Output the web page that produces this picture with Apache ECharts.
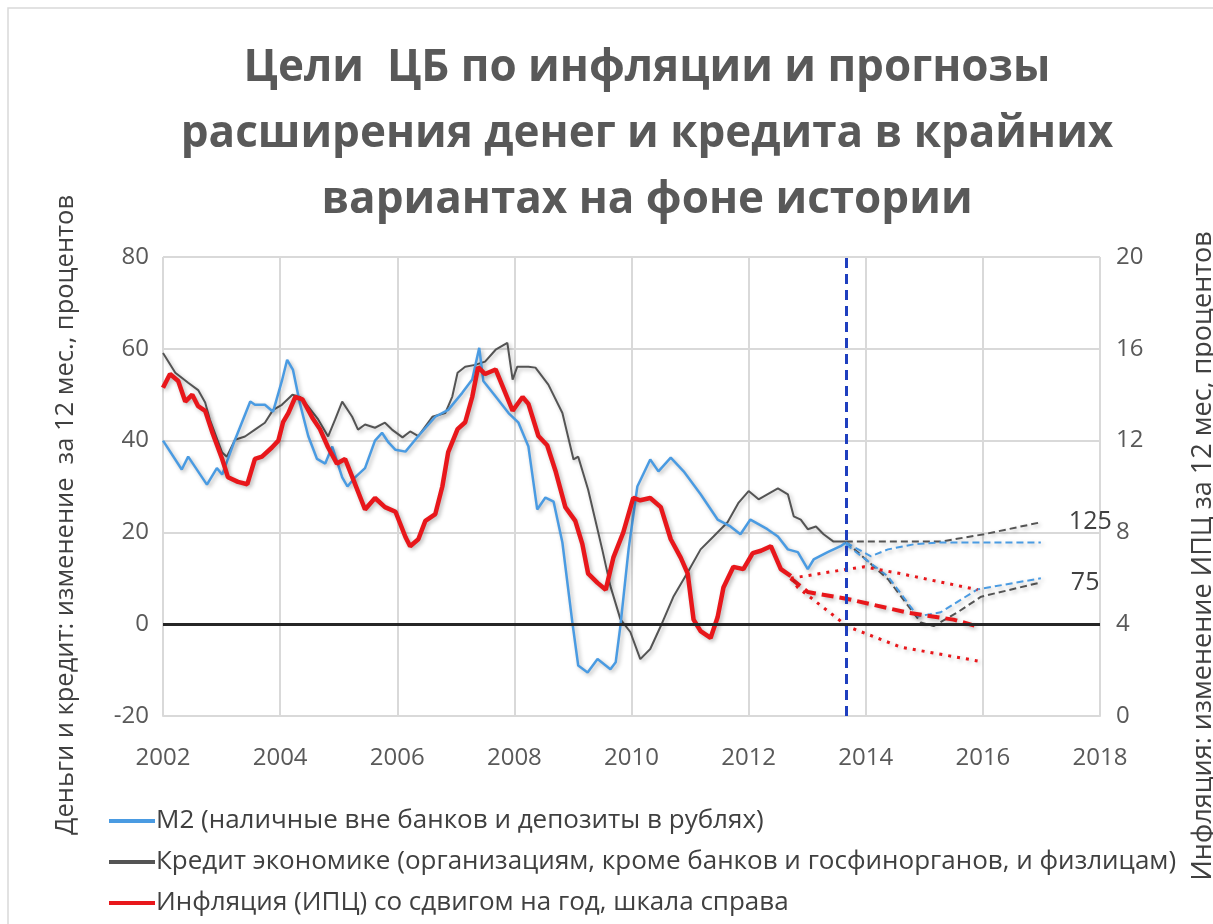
<!DOCTYPE html>
<html>
<head>
<meta charset="utf-8">
<script src="https://cdn.jsdelivr.net/npm/echarts@6/dist/echarts.min.js"></script>
<style>html,body{margin:0;padding:0;background:#fff;}#c{width:1213px;height:924px;}</style>
</head>
<body>
<div id="c"></div>
<script>
// ---- data (decimal years, percent) ----
const xTicks = [2002, 2004, 2006, 2008, 2010, 2012, 2014, 2016, 2018];
const leftTicks = [-20, 0, 20, 40, 60, 80];
const rightTicks = [0, 4, 8, 12, 16, 20];

const m2Years = [2002.00,2002.32,2002.43,2002.75,2002.92,2003.01,2003.23,2003.49,2003.57,2003.74,2003.88,2004.03,2004.12,2004.22,2004.34,2004.48,2004.63,2004.77,2004.89,2005.06,2005.15,2005.28,2005.45,2005.62,2005.74,2005.85,2005.97,2006.14,2006.36,2006.65,2006.87,2007.11,2007.28,2007.40,2007.47,2007.68,2007.90,2008.07,2008.24,2008.39,2008.53,2008.67,2008.82,2008.99,2009.09,2009.25,2009.42,2009.64,2009.73,2009.81,2009.95,2010.10,2010.32,2010.46,2010.67,2010.89,2011.18,2011.47,2011.69,2011.86,2012.03,2012.32,2012.50,2012.67,2012.84,2013.01,2013.11,2013.35,2013.57,2013.66];
const m2Values = [40,33.7,36.5,30.4,34,32.6,40.2,48.5,47.8,47.8,46.3,53,57.6,55.4,48,41,36,35,38.7,32,30,32,34,40,41.7,39.6,38,37.6,41,45.2,46.7,50.4,53.3,60.2,53,49.6,46,43.9,38.7,25,27.6,26.7,17.8,0.4,-9,-10.5,-7.6,-9.8,-8.3,-0.4,16.3,30,35.9,33.3,36.3,33.3,28.3,22.8,21.3,19.6,22.8,20.7,19.1,16.3,15.7,12,14.1,15.7,17,17.8];

const creditYears = [2002.00,2002.21,2002.43,2002.60,2002.72,2002.80,2003.01,2003.09,2003.23,2003.40,2003.57,2003.74,2003.88,2004.03,2004.21,2004.34,2004.48,2004.65,2004.82,2004.94,2005.06,2005.23,2005.33,2005.45,2005.62,2005.79,2005.91,2006.09,2006.22,2006.36,2006.60,2006.82,2006.94,2007.03,2007.16,2007.33,2007.50,2007.68,2007.88,2007.97,2008.05,2008.24,2008.36,2008.58,2008.82,2009.01,2009.09,2009.26,2009.38,2009.50,2009.64,2009.81,2009.98,2010.15,2010.32,2010.50,2010.72,2010.96,2011.18,2011.40,2011.64,2011.83,2012.00,2012.17,2012.32,2012.50,2012.67,2012.77,2012.89,2013.01,2013.15,2013.28,2013.45,2013.66];
const creditValues = [59.1,54.8,52.6,51,48.3,44.6,37.4,36.5,40.2,40.9,42.4,43.9,46.7,47.8,50,49.5,47.4,44.6,40.9,44.6,48.5,45.2,42.4,43.5,42.8,43.9,42.4,40.7,42,41,45.2,46,49.6,54.8,56.1,56.5,57.2,59.8,61.3,53.3,56.1,56.1,55.9,52.2,46,35.9,36.5,29.3,22.8,16.3,8.3,1.1,-1.7,-7.6,-5.4,-0.4,6.1,11.3,16.3,19.1,22.2,26.5,29,27.2,28.3,29.6,28.3,23.5,22.8,20.7,21.3,19.6,18,18];

const inflYears = [2002.00,2002.12,2002.26,2002.38,2002.50,2002.60,2002.72,2002.85,2003.01,2003.11,2003.28,2003.44,2003.57,2003.69,2003.86,2003.97,2004.05,2004.14,2004.26,2004.38,2004.55,2004.68,2004.82,2004.97,2005.11,2005.25,2005.45,2005.62,2005.79,2005.97,2006.14,2006.22,2006.36,2006.48,2006.65,2006.77,2006.87,2007.03,2007.16,2007.28,2007.38,2007.50,2007.68,2007.81,2007.97,2008.14,2008.24,2008.41,2008.56,2008.70,2008.87,2009.04,2009.16,2009.26,2009.42,2009.56,2009.69,2009.86,2010.03,2010.15,2010.32,2010.50,2010.67,2010.84,2010.96,2011.06,2011.18,2011.35,2011.47,2011.57,2011.74,2011.91,2012.07,2012.21,2012.38,2012.55,2012.72];
const inflValues = [14.3,14.9,14.6,13.7,14,13.5,13.3,12.3,11.2,10.4,10.2,10.1,11.2,11.3,11.7,12,12.8,13.2,13.9,13.8,13,12.5,11.7,11,11.2,10.3,9,9.5,9.1,8.9,7.8,7.4,7.7,8.5,8.8,10,11.5,12.5,12.8,13.9,15.2,14.9,15.1,14.3,13.3,13.9,13.6,12.2,11.8,10.7,9.1,8.5,7.5,6.2,5.8,5.5,6.9,8,9.5,9.4,9.5,9.1,7.7,6.9,6.2,4.2,3.7,3.4,4.3,5.6,6.5,6.4,7.1,7.2,7.4,6.4,6.1];

// forecasts
const inflMidYears = [2012.72,2013.01,2013.69,2014.72,2015.50,2015.91];
const inflMidValues = [6.0,5.4,5.1,4.5,4.2,3.9];
const inflHighYears = [2012.72,2013.69,2013.97,2014.60,2015.91];
const inflHighValues = [6.0,6.4,6.5,6.2,5.5];
const inflLowYears = [2012.72,2012.84,2013.69,2014.60,2015.91];
const inflLowValues = [6.0,5.6,3.9,3.0,2.4];

const m2HighYears = [2013.66,2014.09,2014.38,2014.82,2015.28,2016.02,2016.99];
const m2HighValues = [17.8,14.8,16.3,17.4,17.8,17.8,17.8];
const m2LowYears = [2013.66,2014.38,2014.89,2015.28,2015.91,2016.99];
const m2LowValues = [17.4,10.4,1.7,2.6,7.6,10];
const creditHighYears = [2013.66,2015.28,2016.02,2016.99];
const creditHighValues = [18,18,19.6,22.2];
const creditLowYears = [2013.66,2014.38,2014.94,2015.16,2015.57,2015.97,2016.99];
const creditLowValues = [18,9.8,0.4,-0.4,2.6,6,9.1];

const forecastStart = 2013.66;
const highLabel = '125';
const lowLabel = '75';

const names = {
  m2: 'M2 (наличные вне банков и депозиты в рублях)',
  credit: 'Кредит экономике (организациям, кроме банков и госфинорганов, и физлицам)',
  infl: 'Инфляция (ИПЦ) со сдвигом на год, шкала справа'
};
const titleText = 'Цели  ЦБ по инфляции и прогнозы\nрасширения денег и кредита в крайних\nвариантах на фоне истории';
const leftName = 'Деньги и кредит: изменение  за 12 мес., процентов';
const rightName = 'Инфляция: изменение ИПЦ за 12 мес, процентов';

// ---- build ----
const pairs = (xs, ys) => xs.map((x, i) => [x, ys[i]]);
const FONT = "'Open Sans', 'DejaVu Sans', sans-serif";
const BLUE = '#4a9be2', GRAY = '#545454', RED = '#e8171b';
const shadow = {shadowColor: 'rgba(0,0,0,0.28)', shadowBlur: 4, shadowOffsetX: 2, shadowOffsetY: 2};

function lineSeries(name, data, color, width, type, yIdx, extra) {
  return Object.assign({
    name: name, type: 'line', data: data, yAxisIndex: yIdx,
    symbol: 'none', smooth: false, silent: true, animation: false,
    lineStyle: Object.assign({color: color, width: width, type: type}, shadow),
    itemStyle: {color: color}
  }, extra || {});
}

const chart = echarts.init(document.getElementById('c'), null, {renderer: 'canvas'});
const option = {
  backgroundColor: '#fff',
  animation: false,
  title: {
    text: titleText, left: 642, top: 30, textAlign: 'center',
    textStyle: {fontFamily: FONT, fontSize: 44, fontWeight: 'bold', color: '#595959', lineHeight: 66}
  },
  grid: {left: 163, right: 113, top: 257, bottom: 208, containLabel: false},
  xAxis: {
    type: 'value', min: xTicks[0], max: xTicks[xTicks.length - 1], interval: 2,
    axisLine: {show: true, onZero: false, lineStyle: {color: '#d9d9d9', width: 2}},
    axisTick: {show: false},
    splitLine: {show: true, lineStyle: {color: '#d9d9d9', width: 2}},
    axisLabel: {margin: 30, color: '#595959', fontFamily: FONT, fontSize: 24, formatter: v => String(v)}
  },
  yAxis: [
    {
      type: 'value', min: leftTicks[0], max: leftTicks[leftTicks.length - 1], interval: 20,
      axisLine: {show: false}, axisTick: {show: false},
      splitLine: {show: true, lineStyle: {color: '#d9d9d9', width: 2}},
      axisLabel: {margin: 14, color: '#595959', fontFamily: FONT, fontSize: 24}
    },
    {
      type: 'value', min: rightTicks[0], max: rightTicks[rightTicks.length - 1], interval: 4,
      position: 'right',
      axisLine: {show: false}, axisTick: {show: false}, splitLine: {show: false},
      axisLabel: {margin: 16, color: '#595959', fontFamily: FONT, fontSize: 24}
    }
  ],
  legend: {
    orient: 'vertical', left: 109, top: 808, height: 200, itemGap: 15, itemWidth: 46, itemHeight: 4,
    icon: 'rect', padding: 0,
    data: [names.m2, names.credit, names.infl],
    textStyle: {fontFamily: FONT, fontSize: 26, color: '#404040', padding: [0, 0, 0, -4]},
    selectedMode: false
  },
  series: [
    lineSeries(names.credit, pairs(creditYears, creditValues), GRAY, 2, 'solid', 0),
    lineSeries(names.m2, pairs(m2Years, m2Values), BLUE, 2.5, 'solid', 0),
    lineSeries('credit125', pairs(creditHighYears, creditHighValues), GRAY, 2, [7, 4], 0, {
      endLabel: {show: true, formatter: highLabel, distance: 28, color: '#404040', fontFamily: FONT, fontSize: 25}
    }),
    lineSeries('credit75', pairs(creditLowYears, creditLowValues), GRAY, 2, [7, 4], 0, {
      endLabel: {show: true, formatter: lowLabel, distance: 30, color: '#404040', fontFamily: FONT, fontSize: 25}
    }),
    lineSeries('m2125', pairs(m2HighYears, m2HighValues), BLUE, 2, [7, 4], 0),
    lineSeries('m275', pairs(m2LowYears, m2LowValues), BLUE, 2, [7, 4], 0),
    lineSeries(names.infl, pairs(inflYears, inflValues), RED, 4.5, 'solid', 1),
    lineSeries('inflMid', pairs(inflMidYears, inflMidValues), RED, 4, [12, 6], 1),
    lineSeries('inflHigh', pairs(inflHighYears, inflHighValues), RED, 3, [3, 6], 1),
    lineSeries('inflLow', pairs(inflLowYears, inflLowValues), RED, 3, [3, 6], 1),
    {
      name: 'refs', type: 'line', data: [], yAxisIndex: 0, silent: true,
      markLine: {
        symbol: 'none', silent: true, animation: false, label: {show: false},
        data: [
          {yAxis: 0, lineStyle: {color: '#262626', width: 3, type: 'solid'}},
          {xAxis: forecastStart, lineStyle: {color: '#1f3fbf', width: 3, type: [10, 6]}}
        ]
      }
    }
  ],
  graphic: [
    {type: 'rect', silent: true, shape: {x: 8, y: 8, width: 1240, height: 1000},
     style: {fill: 'none', stroke: '#d9d9d9', lineWidth: 1.5}},
    {type: 'text', silent: true, x: 66, y: 515, rotation: Math.PI / 2,
     style: {text: leftName, fontFamily: FONT, fontSize: 25.5, fill: '#404040', textAlign: 'center', textVerticalAlign: 'middle'}},
    {type: 'text', silent: true, x: 1203, y: 556, rotation: Math.PI / 2,
     style: {text: rightName, fontFamily: FONT, fontSize: 27, fill: '#404040', textAlign: 'center', textVerticalAlign: 'middle'}}
  ]
};
chart.setOption(option);
</script>
</body>
</html>
